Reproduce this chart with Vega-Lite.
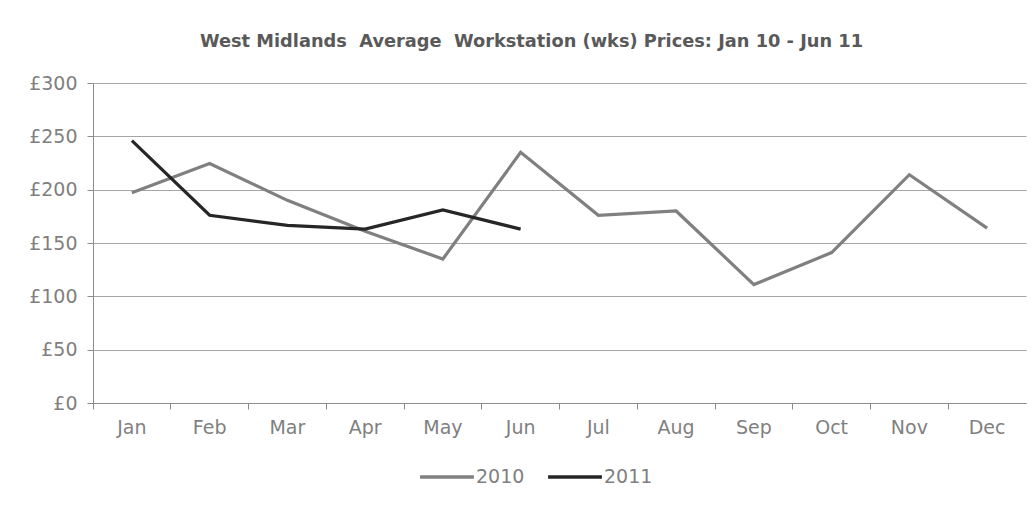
{
  "$schema": "https://vega.github.io/schema/vega-lite/v6.json",
  "width": 933,
  "height": 320,
  "autosize": {"type": "none"},
  "padding": {"left": 93, "top": 83, "right": 9, "bottom": 107},
  "background": "white",
  "config": {
    "view": {"stroke": null},
    "font": "DejaVu Sans"
  },
  "title": {
    "text": "West Midlands\u00a0 Average\u00a0 Workstation (wks) Prices: Jan 10 - Jun 11",
    "fontSize": 17.8,
    "fontWeight": "bold",
    "color": "#595959",
    "font": "DejaVu Sans",
    "anchor": "middle",
    "frame": "group",
    "offset": 23,
    "dx": -28
  },
  "data": {
    "values": [
      {"month": "Jan", "year": "2010", "price": 197},
      {"month": "Feb", "year": "2010", "price": 224.5},
      {"month": "Mar", "year": "2010", "price": 190},
      {"month": "Apr", "year": "2010", "price": 161},
      {"month": "May", "year": "2010", "price": 135},
      {"month": "Jun", "year": "2010", "price": 235},
      {"month": "Jul", "year": "2010", "price": 176},
      {"month": "Aug", "year": "2010", "price": 180},
      {"month": "Sep", "year": "2010", "price": 111},
      {"month": "Oct", "year": "2010", "price": 141},
      {"month": "Nov", "year": "2010", "price": 214},
      {"month": "Dec", "year": "2010", "price": 164},
      {"month": "Jan", "year": "2011", "price": 246},
      {"month": "Feb", "year": "2011", "price": 176},
      {"month": "Mar", "year": "2011", "price": 166.5},
      {"month": "Apr", "year": "2011", "price": 163},
      {"month": "May", "year": "2011", "price": 181},
      {"month": "Jun", "year": "2011", "price": 163}
    ]
  },
  "mark": {"type": "line", "strokeWidth": 3.2, "strokeJoin": "miter"},
  "encoding": {
    "x": {
      "field": "month",
      "type": "ordinal",
      "sort": ["Jan","Feb","Mar","Apr","May","Jun","Jul","Aug","Sep","Oct","Nov","Dec"],
      "scale": {"type": "band", "paddingInner": 0, "paddingOuter": 0},
      "axis": {
        "title": null,
        "labelAngle": 0,
        "bandPosition": 0,
        "grid": false,
        "ticks": true,
        "tickSize": 6,
        "tickColor": "#8c8c8c",
        "domainColor": "#8c8c8c",
        "labelFontSize": 19,
        "labelColor": "#7f7f7f",
        "labelFont": "DejaVu Sans",
        "labelPadding": 9,
        "labelAlign": "center"
      }
    },
    "y": {
      "field": "price",
      "type": "quantitative",
      "scale": {"domain": [0, 300], "nice": false, "zero": true},
      "axis": {
        "title": null,
        "values": [0, 50, 100, 150, 200, 250, 300],
        "labelExpr": "'£' + datum.value",
        "grid": true,
        "gridColor": "#a6a6a6",
        "gridWidth": 1,
        "tickSize": 6,
        "tickColor": "#8c8c8c",
        "domainColor": "#8c8c8c",
        "labelFontSize": 19,
        "labelColor": "#7f7f7f",
        "labelFont": "DejaVu Sans",
        "labelPadding": 10
      }
    },
    "color": {
      "field": "year",
      "type": "nominal",
      "scale": {"domain": ["2010", "2011"], "range": ["#808080", "#262626"]},
      "legend": {
        "title": null,
        "orient": "none",
        "legendX": 325,
        "legendY": 365,
        "direction": "horizontal",
        "symbolType": "stroke",
        "symbolSize": 2900,
        "symbolStrokeWidth": 3.5,
        "labelFontSize": 19,
        "labelColor": "#7f7f7f",
        "labelFont": "DejaVu Sans",
        "labelOffset": 0,
        "columnPadding": 16
      }
    }
  }
}
